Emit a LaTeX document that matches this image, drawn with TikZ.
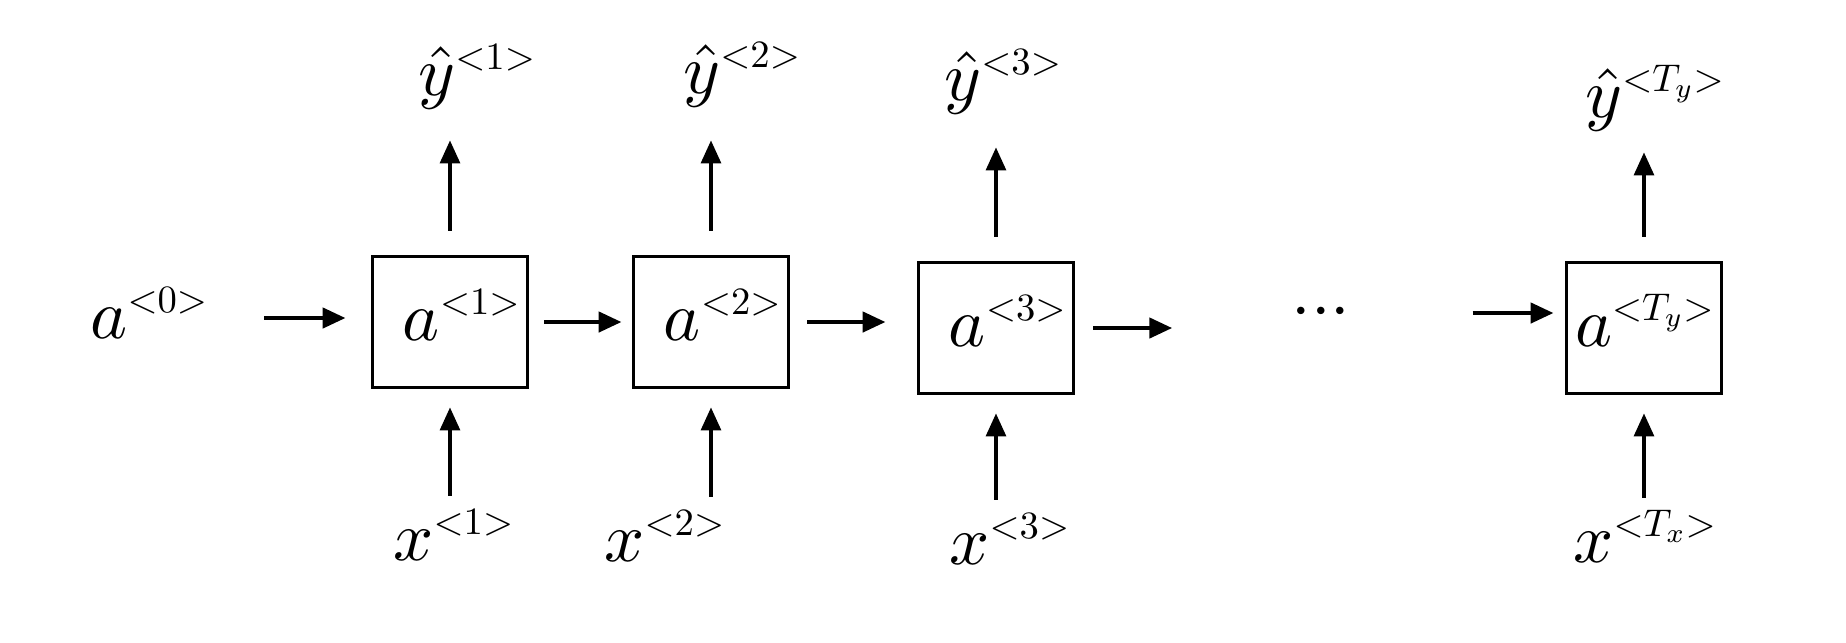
\documentclass[tikz,border=0pt]{standalone}
\usepackage{amsmath}
\usepackage{tikz}
\usetikzlibrary{arrows.meta,positioning,calc}
\newcommand{\tsup}[1]{^{\scalebox{0.55}{${<}#1{>}$}}}
\tikzset{
  rnn/cell/.style={draw, line width=0.55pt, minimum width=7.75mm, minimum height=6.55mm, inner sep=0pt,
    text width=7.3mm, align=right, text height=2.6mm, text depth=0.8mm},
  rnn/label/.style={inner sep=1pt, anchor=base west, text height=2.8mm, text depth=0.8mm},
  arr/.style={-{Triangle[length=1.15mm,width=1.0mm]}, line width=0.45pt},
  harr/.style={arr, line width=0.65pt}
}

\begin{document}
\begin{tikzpicture}[x=0.05mm,y=-0.05mm]
\useasboundingbox (0,0) rectangle (1846,642);
% cells
\node[rnn/cell] (a1) at (450,322) {$a\tsup{1}$};
\node[rnn/cell] (a2) at (711,322) {$a\tsup{2}$};
\node[rnn/cell] (a3) at (996,328) {$a\tsup{3}$};
\node[rnn/cell] (aT) at (1644,328) {$a\tsup{T_y}$};
\node[rnn/label] (a0) at (82,338) {$a\tsup{0}$};
\node[inner sep=1pt] (dots) at (1321,313) {${\cdot}{\cdot}{\cdot}$};
% outputs
\node[rnn/label] (y1) at (410,95) {$\hat{y}\tsup{1}$};
\node[rnn/label] (y2) at (675,93) {$\hat{y}\tsup{2}$};
\node[rnn/label] (y3) at (936,100) {$\hat{y}\tsup{3}$};
\node[rnn/label] (yT) at (1577,117) {$\hat{y}\tsup{T_y}$};
% inputs
\node[rnn/label] (x1) at (385,560) {$x\tsup{1}$};
\node[rnn/label] (x2) at (596,561) {$x\tsup{2}$};
\node[rnn/label] (x3) at (941,564) {$x\tsup{3}$};
\node[rnn/label] (xT) at (1565,562) {$x\tsup{T_x}$};
% up arrows
\foreach \c/\o/\s in {a1/y1/1.05mm,a2/y2/1.15mm,a3/y3/1.15mm,aT/yT/0.55mm}
  \draw[arr, shorten <=1.2mm, shorten >=\s] (\c.north) -- (\c.north |- \o.south);
% input arrows
\foreach \i/\c in {x1/a1,x2/a2,x3/a3,xT/aT}
  \draw[arr, shorten >=0.9mm] (\c.south |- \i.north) -- (\c.south);
% recurrence
\draw[harr, shorten <=2.25mm, shorten >=1.25mm] (a0.east) -- (a0.east -| a1.west);
\draw[harr, shorten <=0.75mm, shorten >=0.5mm] (a1.east) -- (a2.west);
\draw[harr, shorten <=0.85mm, shorten >=1.55mm] (a2.east) -- (a2.east -| a3.west);
\draw[harr, shorten <=0.9mm, shorten >=5.55mm] (a3.east) -- (a3.east -| dots.west);
\draw[harr, shorten <=5.7mm, shorten >=0.55mm] (dots.east) -- (dots.east -| aT.west);
\end{tikzpicture}
\end{document}
